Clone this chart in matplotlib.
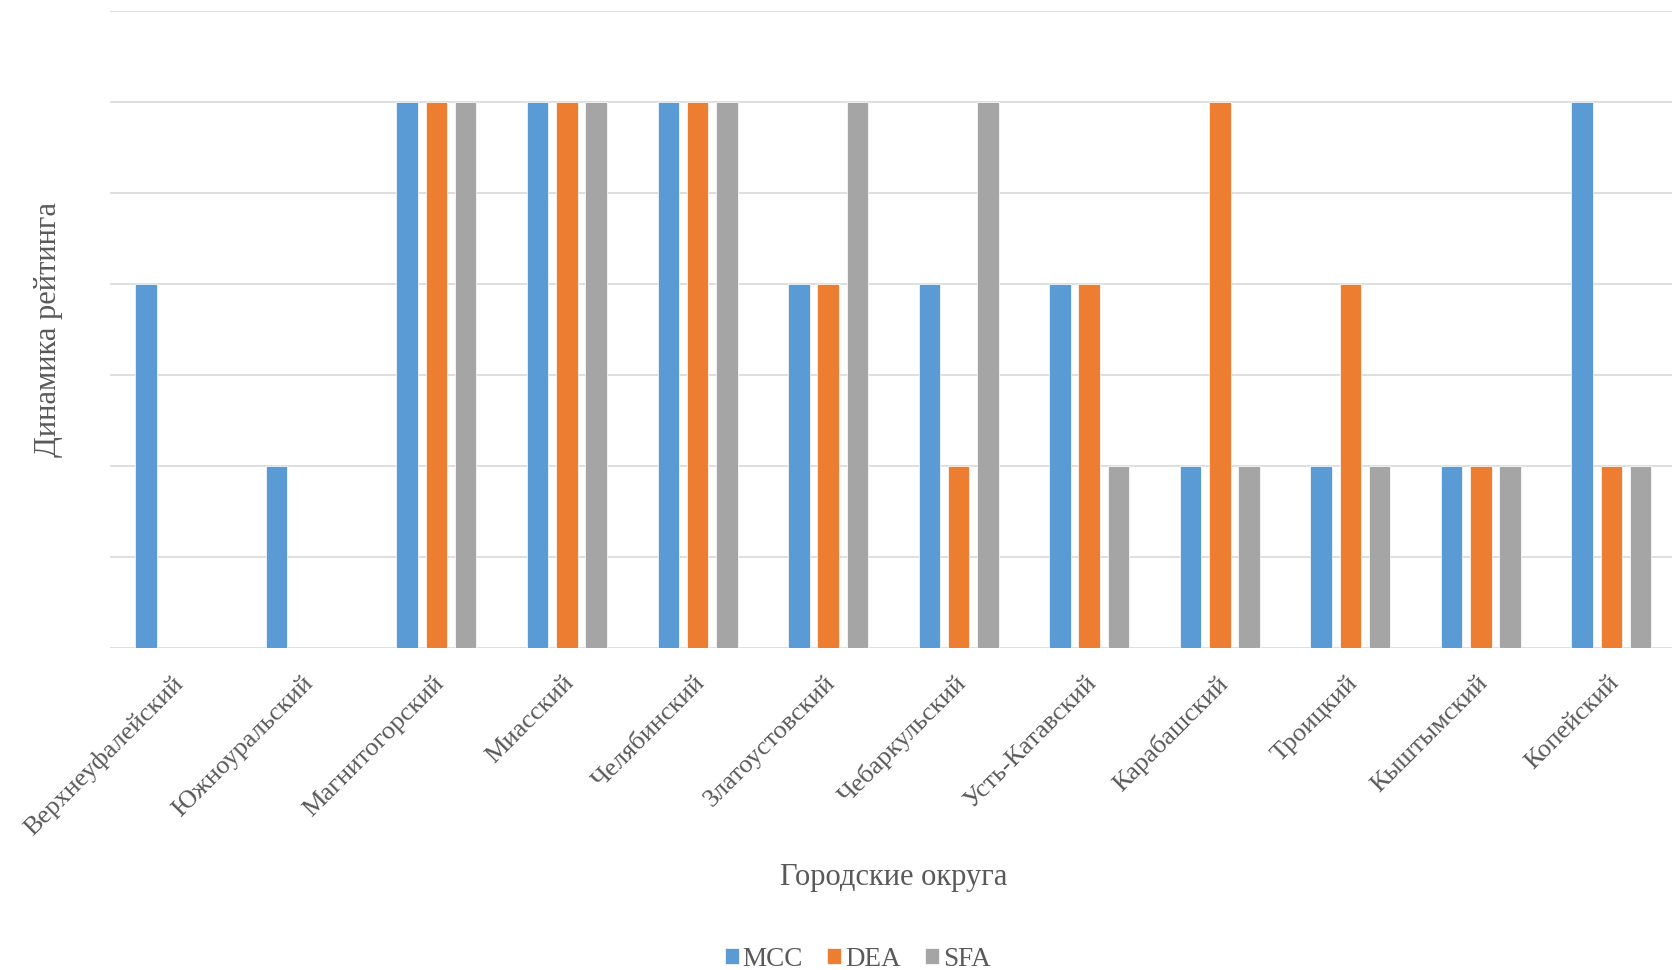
import numpy as np
import matplotlib
matplotlib.use('Agg')
import matplotlib.pyplot as plt

# Данные
districts = ['Верхнеуфалейский', 'Южноуральский', 'Магнитогорский', 'Миасский',
             'Челябинский', 'Златоустовский', 'Чебаркульский', 'Усть-Катавский',
             'Карабашский', 'Троицкий', 'Кыштымский', 'Копейский']
mcc = [4, 2, 6, 6, 6, 4, 4, 4, 2, 2, 2, 6]
dea = [0, 0, 6, 6, 6, 4, 2, 4, 6, 4, 2, 2]
sfa = [0, 0, 6, 6, 6, 6, 6, 2, 2, 2, 2, 2]

series = [('MCC', mcc, '#5B9BD5'), ('DEA', dea, '#ED7D31'), ('SFA', sfa, '#A5A5A5')]
text_color = '#595959'
plt.rcParams['font.family'] = ['Liberation Serif', 'DejaVu Serif']

fig = plt.figure(figsize=(16.72, 9.701), dpi=100)
ax = fig.add_axes([0.0658, 0.332, 0.937, 0.657])

x = np.arange(len(districts))
width = 0.165
step = 0.224
for i, (name, vals, color) in enumerate(series):
    ax.bar(x + (i - 1) * step, vals, width, color=color, label=name,
           edgecolor='white', linewidth=0.5, zorder=3)

ax.set_xlim(-0.5, len(districts) - 0.5)
ax.set_ylim(0, 7)
ax.set_yticks(range(8))
ax.set_yticklabels([])
ax.grid(axis='y', color='#D9D9D9', linewidth=1.2, zorder=0)
ax.tick_params(axis='both', length=0)
for s in ax.spines.values():
    s.set_visible(False)

ax.set_xticks(x - 0.03)
ax.set_xticklabels(districts, rotation=45, ha='right', va='top',
                   rotation_mode='anchor', fontsize=19, color=text_color)
ax.tick_params(axis='x', pad=17)

ax.set_xlabel('Городские округа', fontsize=22, color=text_color, labelpad=17)
ax.set_ylabel('Динамика рейтинга', fontsize=22, color=text_color, labelpad=30)

leg = fig.legend(loc='lower center', bbox_to_anchor=(0.513, -0.027), ncol=3, frameon=False,
                 fontsize=19.5, handlelength=0.5, handleheight=0.5, handletextpad=0.15,
                 columnspacing=0.9)
for t in leg.get_texts():
    t.set_color(text_color)

fig.savefig('out.png', dpi=100, facecolor='white')
